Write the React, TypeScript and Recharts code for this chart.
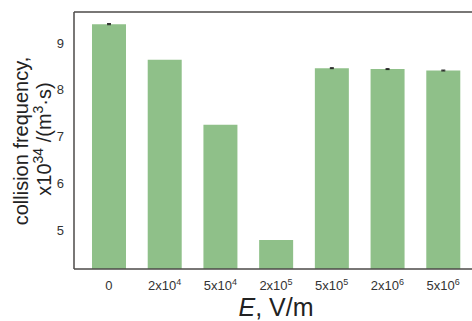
import React from 'react';
import { BarChart, Bar, XAxis, YAxis, ErrorBar, ReferenceLine } from 'recharts';

// field strength categories, written as base + superscript exponent
const fieldBases = ['0', '2x10', '5x10', '2x10', '5x10', '2x10', '5x10'];
const fieldExps = ['', '4', '4', '5', '5', '6', '6'];
const collisionFreq = [9.4, 8.64, 7.25, 4.79, 8.46, 8.44, 8.41];
const freqErr = [0.012, 0, 0, 0, 0.01, 0.01, 0.01];
const yTicks = [5, 6, 7, 8, 9];
const yMin = 4.17;
const yMax = 9.66;

const data = fieldBases.map((b, i) => ({
  idx: i,
  freq: collisionFreq[i],
  err: freqErr[i],
}));

const font = 'Liberation Sans, Arial, sans-serif';
const frame = '#4d4a48';

const FieldTick = (props: any) => {
  const { x, y, payload } = props;
  const i = payload.value;
  return (
    <text x={x} y={y + 13} textAnchor="middle" fontFamily={font} fontSize={13} fill="#333">
      <tspan>{fieldBases[i]}</tspan>
      {fieldExps[i] && (
        <tspan fontSize={9} dy={-5}>{fieldExps[i]}</tspan>
      )}
    </text>
  );
};

const App: React.FC = () => {
  return (
    <div style={{ position: 'absolute', left: 0, top: 0, width: 472, height: 321, overflow: 'hidden', background: '#fff' }}>
      <BarChart
        width={480}
        height={321}
        data={data}
        margin={{ top: 12, right: 2, left: 34, bottom: 0 }}
      >
        <XAxis
          dataKey="idx"
          type="category"
          height={52}
          padding={{ left: 7, right: 7 }}
          tickLine={false}
          axisLine={{ stroke: frame, strokeWidth: 1.5 }}
          tick={<FieldTick />}
          interval={0}
        />
        <YAxis
          domain={[yMin, yMax]}
          ticks={yTicks}
          allowDataOverflow
          width={40}
          tickLine={false}
          axisLine={{ stroke: frame, strokeWidth: 1.5 }}
          tick={{ fill: '#333', fontSize: 13, fontFamily: font }}
          tickMargin={4}
        />
        <ReferenceLine y={yMax} stroke={frame} strokeWidth={1.5} ifOverflow="extendDomain" />
        <Bar dataKey="freq" fill="#8fc089" barSize={34} isAnimationActive={false}>
          <ErrorBar dataKey="err" width={2} stroke="#222" strokeWidth={1} />
        </Bar>
      </BarChart>
      <svg width={472} height={321} style={{ position: 'absolute', left: 0, top: 0, pointerEvents: 'none' }}>
        <text x={276} y={316} textAnchor="middle" fontFamily={font} fontSize={25} fill="#222">
          <tspan fontStyle="italic">E</tspan>
          <tspan>, V/m</tspan>
        </text>
        <text transform="translate(28,141) rotate(-90)" textAnchor="middle" fontFamily={font} fontSize={20} fill="#222">
          collision frequency,
        </text>
        <text transform="translate(51,139) rotate(-90)" textAnchor="middle" fontFamily={font} fontSize={20} fill="#222">
          <tspan>x10</tspan>
          <tspan fontSize={14} dy={-8}>34</tspan>
          <tspan dy={8}> /(m</tspan>
          <tspan fontSize={14} dy={-8}>3</tspan>
          <tspan dy={8}>·s)</tspan>
        </text>
      </svg>
    </div>
  );
};

export default App;
